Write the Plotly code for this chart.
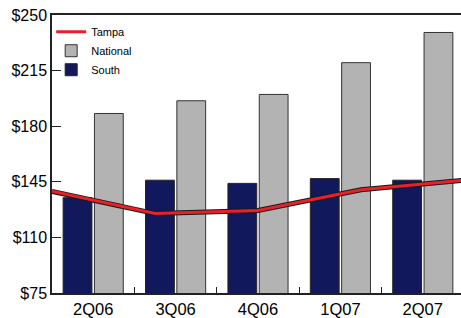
import plotly.graph_objects as go

categories = ["2Q06", "3Q06", "4Q06", "1Q07", "2Q07"]
south = [135, 146, 144, 147, 146]
national = [188, 196, 200, 220, 239]
tampa = [139, 125, 127, 140, 146]
y_ticks = [75, 110, 145, 180, 215, 250]
y_tick_labels = ["$" + str(v) for v in y_ticks]

W, H = 461, 318
ML, MR, MT, MB = 52, 0, 15, 25
full_w = 412.0  # full plot width including the part clipped at the right edge
frac = (W - ML - MR) / full_w

fig = go.Figure()
fig.add_trace(go.Bar(x=categories, y=south, name="South",
                     marker=dict(color="#12185c", line=dict(color="#222222", width=1)),
                     legendrank=3))
fig.add_trace(go.Bar(x=categories, y=national, name="National",
                     marker=dict(color="#b3b3b3", line=dict(color="#333333", width=1)),
                     legendrank=2))
idx = list(range(len(tampa)))
fig.add_trace(go.Scatter(x=idx, y=tampa, xaxis="x2", mode="lines",
                         line=dict(color="#1a1a1a", width=5), showlegend=False,
                         hoverinfo="skip"))
fig.add_trace(go.Scatter(x=idx, y=tampa, xaxis="x2", mode="lines", name="Tampa",
                         line=dict(color="#e8202a", width=3), legendrank=1))

fig.update_layout(
    width=W, height=H,
    margin=dict(l=ML, r=MR, t=MT, b=MB, pad=0, autoexpand=False),
    paper_bgcolor="white", plot_bgcolor="white",
    barmode="group", bargap=0.24, bargroupgap=0.08,
    font=dict(family="Liberation Sans, Arial, sans-serif", color="black"),
    showlegend=True,
    legend=dict(x=-0.002, y=0.992, xanchor="left", yanchor="top",
                bgcolor="rgba(0,0,0,0)", font=dict(size=11),
                itemwidth=30, tracegroupgap=0),
    xaxis=dict(type="category", range=[-0.5, -0.5 + 5 * frac], automargin=False,
               showline=True, linecolor="#222222", linewidth=1.5, mirror=True,
               ticks="inside", ticklen=6, tickcolor="#222222", tickson="boundaries",
               tickfont=dict(size=16.5), showgrid=False, zeroline=False),
    xaxis2=dict(overlaying="x", range=[0, 4 * frac], visible=False),
    yaxis=dict(range=[75, 250], tickmode="array", tickvals=y_ticks, ticktext=y_tick_labels,
               automargin=False,
               showline=True, linecolor="#222222", linewidth=1.5,
               ticks="inside", ticklen=9, tickcolor="#222222",
               tickfont=dict(size=16), showgrid=False, zeroline=False),
)

fig.write_html("out.html", config={"displayModeBar": False},
               post_script="document.body.style.margin='0';document.body.style.overflow='hidden';")
